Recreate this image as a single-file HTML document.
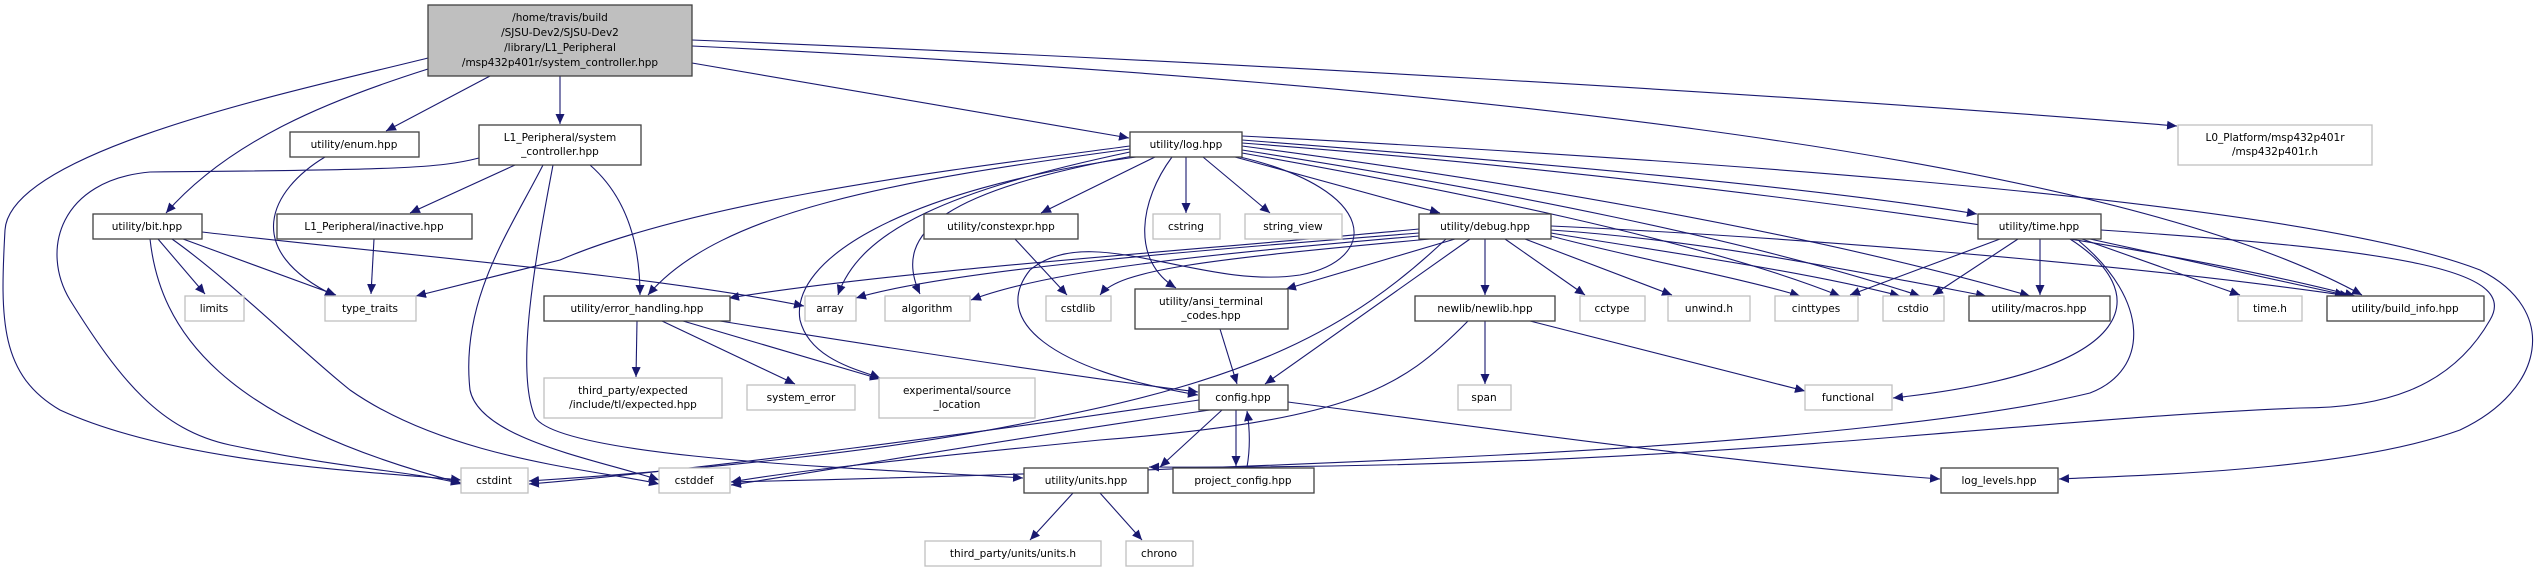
<!DOCTYPE html>
<html><head><meta charset="utf-8"><style>
html,body{margin:0;padding:0;background:#fff;}
svg{display:block;}
text{font-family:"DejaVu Sans","Liberation Sans",sans-serif;font-size:10.5px;fill:#000;text-anchor:middle;}
.e{fill:none;stroke:#191970;stroke-width:1.1;marker-end:url(#a);}
.k{fill:#fff;stroke:#404040;stroke-width:1.3;}
.g{fill:#fff;stroke:#bfbfbf;stroke-width:1.3;}
</style></head><body>
<svg width="2543" height="573" viewBox="0 0 2543 573" xmlns="http://www.w3.org/2000/svg">
<defs><marker id="a" markerUnits="userSpaceOnUse" markerWidth="12" markerHeight="10" refX="10" refY="4.5" orient="auto"><path d="M0,0 L10,4.5 L0,9 Z" fill="#191970"/></marker></defs>

<!-- edges -->
<g>
<!-- root -->
<path class="e" d="M428,58 C300,90 10,150 5,230 C0,320 0,375 60,410 C180,465 380,472 461,480"/>
<path class="e" d="M428,69 C330,100 230,140 166,213"/>
<path class="e" d="M490,76 L386,131"/>
<path class="e" d="M560,76 L560,124"/>
<path class="e" d="M692,63 C850,90 1000,115 1129,138"/>
<path class="e" d="M692,40 C1200,60 1800,95 2177,126"/>
<path class="e" d="M692,46 C1400,80 2100,150 2362,295"/>
<!-- enum -->
<path class="e" d="M325,157 C270,190 240,250 335,296"/>
<!-- L1 sys -->
<path class="e" d="M479,158 C440,168 400,170 150,172 C60,180 40,250 70,300 C120,380 160,430 230,445 C350,470 420,472 461,484"/>
<path class="e" d="M515,165 L410,213"/>
<path class="e" d="M543,165 C510,230 460,300 470,390 C480,440 600,460 659,480"/>
<path class="e" d="M553,165 C535,260 515,370 535,417 C560,460 900,470 1023,478"/>
<path class="e" d="M590,165 C630,200 640,250 640,295"/>
<!-- bit -->
<path class="e" d="M158,239 L205,294"/>
<path class="e" d="M183,239 L336,295"/>
<path class="e" d="M202,232 C400,255 650,275 804,306"/>
<path class="e" d="M150,239 C160,330 220,420 461,483"/>
<path class="e" d="M172,239 C230,280 300,350 350,390 C450,460 600,470 659,484"/>
<!-- inactive -->
<path class="e" d="M374,239 L371,294"/>
<!-- log -->
<path class="e" d="M1130,146 C950,170 700,200 560,260 L416,296"/>
<path class="e" d="M1130,149 C900,180 720,210 648,295"/>
<path class="e" d="M1130,152 C950,190 860,230 838,295"/>
<path class="e" d="M1133,156 C950,190 890,230 920,294"/>
<path class="e" d="M1136,157 C900,190 790,260 800,320 C810,360 860,370 880,378"/>
<path class="e" d="M1155,157 L1041,213"/>
<path class="e" d="M1172,157 C1140,200 1130,260 1176,288"/>
<path class="e" d="M1186,157 L1186,213"/>
<path class="e" d="M1203,157 L1270,213"/>
<path class="e" d="M1235,157 L1440,213"/>
<path class="e" d="M1240,157 C1380,190 1380,260 1300,275 C1200,290 1090,220 1030,270 C990,320 1050,370 1198,395"/>
<path class="e" d="M1242,140 C1500,160 1800,185 1977,214"/>
<path class="e" d="M1242,136 C1700,160 2300,200 2480,270 C2560,310 2545,390 2460,430 C2350,470 2150,475 2059,479"/>
<path class="e" d="M1242,143 C1600,170 2100,230 2355,296"/>
<path class="e" d="M1242,146 C1500,180 1800,230 2030,296"/>
<path class="e" d="M1242,150 C1500,190 1750,240 1920,296"/>
<path class="e" d="M1242,153 C1450,190 1700,240 1840,296"/>
<!-- debug -->
<path class="e" d="M1419,229 C1200,250 900,270 729,298"/>
<path class="e" d="M1419,233 C1200,250 950,270 856,298"/>
<path class="e" d="M1419,236 C1200,255 1050,270 971,300"/>
<path class="e" d="M1430,239 C1200,260 1120,270 1100,295"/>
<path class="e" d="M1455,239 L1286,289"/>
<path class="e" d="M1446,239 C1350,330 1250,380 1040,420 C900,450 700,470 529,481"/>
<path class="e" d="M1470,239 L1265,384"/>
<path class="e" d="M1485,239 L1485,295"/>
<path class="e" d="M1505,239 L1585,295"/>
<path class="e" d="M1525,239 L1672,295"/>
<path class="e" d="M1551,226 C1750,235 2100,260 2350,296"/>
<path class="e" d="M1551,230 C1700,240 1850,270 1986,296"/>
<path class="e" d="M1551,233 C1650,250 1800,270 1900,296"/>
<path class="e" d="M1551,236 C1620,255 1750,280 1800,296"/>
<!-- ansi / constexpr -->
<path class="e" d="M1220,329 L1237,384"/>
<path class="e" d="M1015,239 L1067,295"/>
<!-- error handling -->
<path class="e" d="M637,321 L636,377"/>
<path class="e" d="M662,321 L795,384"/>
<path class="e" d="M683,321 L880,379"/>
<path class="e" d="M720,321 C900,350 1100,380 1198,392"/>
<!-- newlib -->
<path class="e" d="M1485,321 L1485,384"/>
<path class="e" d="M1530,321 L1805,391"/>
<path class="e" d="M1468,321 C1400,390 1350,420 1100,440 C900,460 800,470 731,482"/>
<!-- config -->
<path class="e" d="M1199,400 C1000,430 700,470 529,484"/>
<path class="e" d="M1210,410 C1000,440 800,475 731,485"/>
<path class="e" d="M1222,410 L1160,467"/>
<path class="e" d="M1236,410 L1236,466"/>
<path class="e" d="M1247,467 C1250,450 1250,430 1247,411"/>
<path class="e" d="M1288,402 C1500,430 1750,465 1940,479"/>
<!-- units -->
<path class="e" d="M1073,493 L1030,540"/>
<path class="e" d="M1100,493 L1142,540"/>
<!-- time -->
<path class="e" d="M2000,239 L1850,295"/>
<path class="e" d="M2018,239 L1933,295"/>
<path class="e" d="M2040,239 L2040,295"/>
<path class="e" d="M2082,239 L2240,295"/>
<path class="e" d="M2090,239 L2345,295"/>
<path class="e" d="M2070,239 C2150,290 2150,370 1893,398"/>
<path class="e" d="M2079,241 C2150,300 2150,370 2090,393 C2000,415 1800,440 1500,455 C1200,470 900,478 731,482"/>
<path class="e" d="M2101,230 C2400,250 2520,270 2490,320 C2450,390 2380,408 2300,408 C2000,420 1700,470 1149,467"/>
</g>

<!-- nodes -->
<g>
<rect x="428" y="5" width="264" height="71" fill="#bfbfbf" stroke="#404040" stroke-width="1.3"/>
<text x="560" y="21">/home/travis/build</text>
<text x="560" y="36">/SJSU-Dev2/SJSU-Dev2</text>
<text x="560" y="51">/library/L1_Peripheral</text>
<text x="560" y="66">/msp432p401r/system_controller.hpp</text>

<rect class="k" x="290" y="132" width="129" height="25"/><text x="354" y="148">utility/enum.hpp</text>
<rect class="k" x="479" y="125" width="162" height="40"/><text x="560" y="141">L1_Peripheral/system</text><text x="560" y="155">_controller.hpp</text>
<rect class="k" x="1130" y="132" width="112" height="25"/><text x="1186" y="148">utility/log.hpp</text>
<rect class="g" x="2178" y="125" width="194" height="40"/><text x="2275" y="141">L0_Platform/msp432p401r</text><text x="2275" y="155">/msp432p401r.h</text>

<rect class="k" x="93" y="214" width="109" height="25"/><text x="147" y="230">utility/bit.hpp</text>
<rect class="k" x="277" y="214" width="195" height="25"/><text x="374" y="230">L1_Peripheral/inactive.hpp</text>
<rect class="k" x="924" y="214" width="154" height="25"/><text x="1001" y="230">utility/constexpr.hpp</text>
<rect class="g" x="1153" y="214" width="67" height="25"/><text x="1186" y="230">cstring</text>
<rect class="g" x="1245" y="214" width="97" height="25"/><text x="1293" y="230">string_view</text>
<rect class="k" x="1419" y="214" width="132" height="25"/><text x="1485" y="230">utility/debug.hpp</text>
<rect class="k" x="1978" y="214" width="123" height="25"/><text x="2039" y="230">utility/time.hpp</text>

<rect class="g" x="185" y="296" width="59" height="25"/><text x="214" y="312">limits</text>
<rect class="g" x="325" y="296" width="91" height="25"/><text x="370" y="312">type_traits</text>
<rect class="k" x="544" y="296" width="186" height="25"/><text x="637" y="312">utility/error_handling.hpp</text>
<rect class="g" x="805" y="296" width="51" height="25"/><text x="830" y="312">array</text>
<rect class="g" x="885" y="296" width="85" height="25"/><text x="927" y="312">algorithm</text>
<rect class="g" x="1046" y="296" width="65" height="25"/><text x="1078" y="312">cstdlib</text>
<rect class="k" x="1135" y="289" width="153" height="40"/><text x="1211" y="305">utility/ansi_terminal</text><text x="1211" y="319">_codes.hpp</text>
<rect class="k" x="1415" y="296" width="140" height="25"/><text x="1485" y="312">newlib/newlib.hpp</text>
<rect class="g" x="1580" y="296" width="65" height="25"/><text x="1612" y="312">cctype</text>
<rect class="g" x="1668" y="296" width="82" height="25"/><text x="1709" y="312">unwind.h</text>
<rect class="g" x="1775" y="296" width="83" height="25"/><text x="1816" y="312">cinttypes</text>
<rect class="g" x="1883" y="296" width="61" height="25"/><text x="1913" y="312">cstdio</text>
<rect class="k" x="1969" y="296" width="141" height="25"/><text x="2039" y="312">utility/macros.hpp</text>
<rect class="g" x="2238" y="296" width="64" height="25"/><text x="2270" y="312">time.h</text>
<rect class="k" x="2327" y="296" width="157" height="25"/><text x="2405" y="312">utility/build_info.hpp</text>

<rect class="g" x="544" y="378" width="178" height="40"/><text x="633" y="394">third_party/expected</text><text x="633" y="408">/include/tl/expected.hpp</text>
<rect class="g" x="747" y="385" width="108" height="25"/><text x="801" y="401">system_error</text>
<rect class="g" x="879" y="378" width="156" height="40"/><text x="957" y="394">experimental/source</text><text x="957" y="408">_location</text>
<rect class="k" x="1199" y="385" width="89" height="25"/><text x="1243" y="401">config.hpp</text>
<rect class="g" x="1458" y="385" width="53" height="25"/><text x="1484" y="401">span</text>
<rect class="g" x="1805" y="385" width="87" height="25"/><text x="1848" y="401">functional</text>

<rect class="g" x="461" y="468" width="67" height="25"/><text x="494" y="484">cstdint</text>
<rect class="g" x="659" y="468" width="71" height="25"/><text x="694" y="484">cstddef</text>
<rect class="k" x="1024" y="468" width="124" height="25"/><text x="1086" y="484">utility/units.hpp</text>
<rect class="k" x="1173" y="468" width="141" height="25"/><text x="1243" y="484">project_config.hpp</text>
<rect class="k" x="1941" y="468" width="117" height="25"/><text x="1999" y="484">log_levels.hpp</text>

<rect class="g" x="925" y="541" width="176" height="25"/><text x="1013" y="557">third_party/units/units.h</text>
<rect class="g" x="1126" y="541" width="67" height="25"/><text x="1159" y="557">chrono</text>
</g>
</svg>
</body></html>
